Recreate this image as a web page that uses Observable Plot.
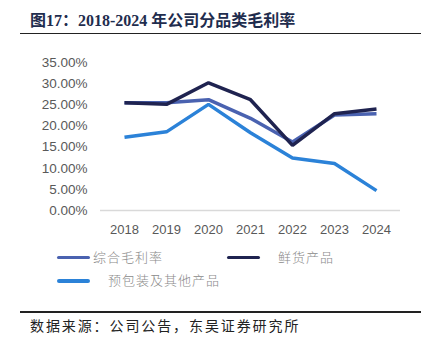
<!DOCTYPE html>
<html><head><meta charset="utf-8">
<script src="https://cdn.jsdelivr.net/npm/d3@7"></script>
<script src="https://cdn.jsdelivr.net/npm/@observablehq/plot@0.6"></script>
<style>
body{margin:0;background:#fff;}
#wrap{position:relative;width:438px;height:343px;overflow:hidden;background:#fff;font-family:"Noto Sans CJK SC",sans-serif;}
#title{position:absolute;left:30px;top:7px;font-family:"Liberation Serif","Noto Sans CJK SC",serif;font-weight:bold;font-size:16px;color:#1F2D4E;white-space:nowrap;}
.rule{position:absolute;left:20px;width:401px;height:1.5px;background:#222;}
#chart{position:absolute;left:0;top:45px;}
.lg{position:absolute;height:3.5px;border-radius:2px;width:33px;}
.lt{position:absolute;font-size:13px;letter-spacing:1px;color:#8a8a8a;white-space:nowrap;line-height:16px;font-weight:300;}
#src{position:absolute;left:30px;top:316px;font-size:14px;letter-spacing:1.9px;color:#222;white-space:nowrap;line-height:18px;}
#chart svg g[aria-label="y-axis tick label"] text{font-size:13.5px;}
</style></head>
<body><div id="wrap">
<div id="title">图17：2018-2024 年公司分品类毛利率</div>
<div class="rule" style="top:32.5px"></div>
<div id="chart"></div>
<div class="lg" style="left:57px;top:255.5px;background:#4A62B0"></div>
<div class="lt" style="left:93px;top:249px">综合毛利率</div>
<div class="lg" style="left:227px;top:255.5px;background:#1F2350"></div>
<div class="lt" style="left:278px;top:249px">鲜货产品</div>
<div class="lg" style="left:57px;top:279px;background:#2B82D8"></div>
<div class="lt" style="left:108px;top:272px">预包装及其他产品</div>
<div class="rule" style="top:311px"></div>
<div id="src">数据来源：公司公告，东吴证券研究所</div>
</div>
<script>
const years = ["2018","2019","2020","2021","2022","2023","2024"];
const combined = [25.5, 25.5, 26.2, 21.8, 16.2, 22.6, 22.9];
const fresh = [25.5, 25.1, 30.2, 26.2, 15.4, 22.9, 24.0];
const packaged = [17.3, 18.6, 25.1, 18.4, 12.4, 11.1, 4.7];
const seriesNames = ["综合毛利率","鲜货产品","预包装及其他产品"];
const seriesColors = ["#4A62B0","#1F2350","#2B82D8"];
const yTicks = [0,5,10,15,20,25,30,35];

const rows = [];
[combined, fresh, packaged].forEach((arr, si) => arr.forEach((v, i) => rows.push({year: years[i], value: v, series: seriesNames[si]})));

const chart = Plot.plot({
  width: 438, height: 195,
  marginLeft: 100, marginRight: 38, marginTop: 17, marginBottom: 30,
  style: {fontFamily: "Liberation Sans, Arial, sans-serif", fontSize: "13px", color: "#595959", background: "transparent"},
  x: {type: "point", domain: years, padding: 0.5, label: null, tickSize: 0, tickPadding: 14},
  y: {domain: [0, 35], ticks: yTicks, label: null, tickSize: 0, tickPadding: 13, tickFormat: d => d3.format(".2%")(d/100)},
  color: {domain: seriesNames, range: seriesColors},
  marks: [
    Plot.ruleY([0], {stroke: "#d9d9d9", strokeWidth: 1.5}),
    Plot.line(rows, {x: "year", y: "value", z: "series", stroke: "series", strokeWidth: 3.5, strokeLinejoin: "miter", strokeLinecap: "butt"})
  ]
});
document.getElementById("chart").appendChild(chart);
</script>
</body></html>
